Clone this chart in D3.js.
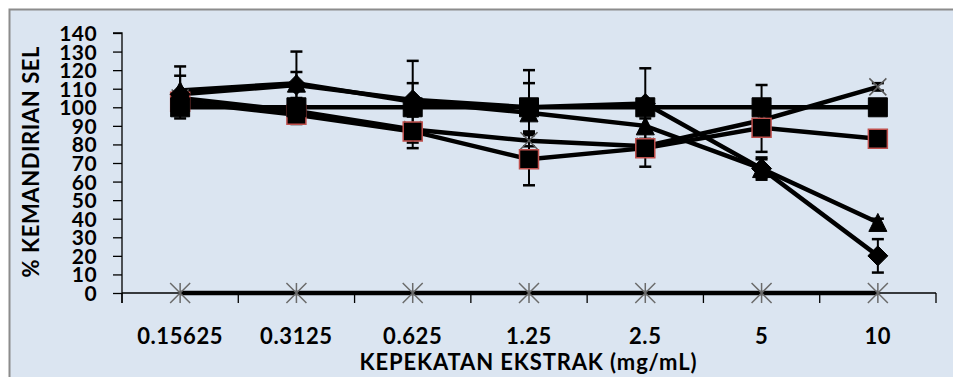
<!DOCTYPE html>
<html>
<head>
<meta charset="utf-8">
<title>% Kemandirian Sel</title>
<style>
  body { margin: 0; background: #fff; }
  svg { display: block; }
  text { font-family: Lato, "Open Sans", sans-serif; fill: #000; }
</style>
</head>
<body>
<script src="https://cdn.jsdelivr.net/npm/d3@7/dist/d3.min.js"></script>
<script>

// data
var categories = ["0.15625", "0.3125", "0.625", "1.25", "2.5", "5", "10"];
var yTicks = [0, 10, 20, 30, 40, 50, 60, 70, 80, 90, 100, 110, 120, 130, 140];

var diamondVals  = [107, 112, 104, 100, 102, 67, 20];
var diamondErr   = [10, 7, 9, 13, 19, 5, 9];
var triangleVals = [109, 113, 103, 97, 90, 67, 38];
var triangleErr  = [13, 17, 22, 23, 4, 6, 2];
var squareVals   = [100, 100, 100, 100, 100, 100, 100];
var squareErr    = [6, 4, 3, 2, 2, 12, 1];
var redSqVals    = [103, 96, 87, 72, 78, 89, 83];
var redSqErr     = [4, 5, 9, 14, 10, 13, 2];
var crossVals    = [105, 98, 88, 82, 79, 93, 111];
var crossErr     = [3, 2, 2, 3, 2, 3, 2];
var zeroVals     = [0, 0, 0, 0, 0, 0, 0];

var W = 953, H = 377;
var margin = {top: 33, right: 17, bottom: 84, left: 122};
var width = W - margin.left - margin.right,
    height = H - margin.top - margin.bottom;

var svg = d3.select("body").append("svg")
  .attr("width", W)
  .attr("height", H);

// chart area background and frame
svg.append("rect")
  .attr("x", 9).attr("y", 9)
  .attr("width", W - 9).attr("height", H - 9)
  .attr("fill", "#dbe5f1");
svg.append("path")
  .attr("d", "M9.5," + H + "V9.5H" + W)
  .attr("fill", "none")
  .attr("stroke", "#8c8c8c")
  .attr("stroke-width", 2);

var g = svg.append("g")
  .attr("transform", "translate(" + margin.left + "," + margin.top + ")");

var x = d3.scaleBand().domain(categories).range([0, width]);
var y = d3.scaleLinear().domain([0, 140]).range([height, 0]);
var cx = function(i) { return x(categories[i]) + x.bandwidth() / 2; };

// y axis
var yAxis = g.append("g")
  .call(d3.axisLeft(y).tickValues(yTicks).tickSize(9).tickPadding(16));
yAxis.select(".domain").attr("stroke", "#000").attr("stroke-width", 1.3)
  .attr("d", "M0," + (height + 10) + "V0H-9");
yAxis.selectAll(".tick line").attr("stroke", "#000").attr("stroke-width", 1.3);
yAxis.selectAll("text")
  .style("font-size", "21px").style("font-weight", "bold")
  .style("font-family", "Lato, sans-serif")
  .style("letter-spacing", "0.4px")
  .attr("dy", "0.36em");

// x axis: ticks on band edges, labels in the middle
var xAxis = g.append("g").attr("transform", "translate(0," + height + ")");
xAxis.append("line")
  .attr("x1", 0).attr("x2", width)
  .attr("stroke", "#000").attr("stroke-width", 1.3);
xAxis.selectAll(".edge")
  .data(categories.concat(["end"]))
  .enter().append("line")
  .attr("class", "edge")
  .attr("x1", function(d, i) { return i * x.step(); })
  .attr("x2", function(d, i) { return i * x.step(); })
  .attr("y1", 0).attr("y2", 10)
  .attr("stroke", "#000").attr("stroke-width", 1.3);
xAxis.selectAll(".lbl")
  .data(categories)
  .enter().append("text")
  .attr("class", "lbl")
  .attr("x", function(d) { return x(d) + x.bandwidth() / 2; })
  .attr("y", 51)
  .attr("text-anchor", "middle")
  .style("font-size", "22px").style("font-weight", "bold")
  .style("letter-spacing", "0.6px")
  .text(function(d) { return d; });

// axis titles
g.append("text")
  .attr("x", width / 2 - 1)
  .attr("y", height + 77)
  .attr("text-anchor", "middle")
  .attr("textLength", 337)
  .attr("lengthAdjust", "spacing")
  .style("font-size", "22px").style("font-weight", "bold")
  .text("KEPEKATAN EKSTRAK (mg/mL)");
svg.append("text")
  .attr("transform", "translate(39,162) rotate(-90)")
  .attr("text-anchor", "middle")
  .attr("textLength", 231)
  .attr("lengthAdjust", "spacing")
  .style("font-size", "22px").style("font-weight", "bold")
  .text("% KEMANDIRIAN SEL");

// marker shapes
function markerPath(type, s) {
  var h = s / 2;
  if (type === "square") return "M" + -h + "," + -h + "h" + s + "v" + s + "h" + -s + "Z";
  if (type === "diamond") return "M0," + -h + "L" + h + ",0L0," + h + "L" + -h + ",0Z";
  if (type === "triangle") return "M0," + -h + "L" + h + "," + h + "H" + -h + "Z";
  if (type === "cross") return "M" + -h + "," + -h + "L" + h + "," + h + "M" + h + "," + -h + "L" + -h + "," + h;
  if (type === "star") return "M" + -h + "," + -h + "L" + h + "," + h + "M" + h + "," + -h + "L" + -h + "," + h + "M0," + -h + "V" + h;
}

var series = [
  {name: "zero", vals: zeroVals, err: null, marker: "star", size: 20, fill: "none", stroke: "#6b6b6b", sw: 1.5},
  {name: "cross", vals: crossVals, err: crossErr, marker: "cross", size: 17, fill: "none", stroke: "#5a5a5a", sw: 1.5},
  {name: "redsq", vals: redSqVals, err: redSqErr, marker: "square", size: 19, fill: "#000", stroke: "#c0504d", sw: 1.5},
  {name: "square", vals: squareVals, err: squareErr, marker: "square", size: 19, fill: "#000", stroke: "#000", sw: 1},
  {name: "triangle", vals: triangleVals, err: triangleErr, marker: "triangle", size: 18, fill: "#000", stroke: "#000", sw: 1},
  {name: "diamond", vals: diamondVals, err: diamondErr, marker: "diamond", size: 20, fill: "#000", stroke: "#000", sw: 1}
];

var line = d3.line()
  .x(function(d, i) { return cx(i); })
  .y(function(d) { return y(d); });

// lines first
series.forEach(function(s) {
  g.append("path")
    .datum(s.vals)
    .attr("d", line)
    .attr("fill", "none")
    .attr("stroke", "#000")
    .attr("stroke-width", 4.5);
});

// error bars
series.forEach(function(s) {
  if (!s.err) return;
  var eb = g.selectAll(".eb-" + s.name)
    .data(s.vals)
    .enter().append("g")
    .attr("class", "eb-" + s.name);
  eb.append("line")
    .attr("x1", function(d, i) { return cx(i); })
    .attr("x2", function(d, i) { return cx(i); })
    .attr("y1", function(d, i) { return y(d + s.err[i]); })
    .attr("y2", function(d, i) { return y(d - s.err[i]); })
    .attr("stroke", "#000").attr("stroke-width", 2);
  [1, -1].forEach(function(sign) {
    eb.append("line")
      .attr("x1", function(d, i) { return cx(i) - 6; })
      .attr("x2", function(d, i) { return cx(i) + 6; })
      .attr("y1", function(d, i) { return y(d + sign * s.err[i]); })
      .attr("y2", function(d, i) { return y(d + sign * s.err[i]); })
      .attr("stroke", "#000").attr("stroke-width", 2.5);
  });
});

// markers
series.forEach(function(s) {
  g.selectAll(".mk-" + s.name)
    .data(s.vals)
    .enter().append("path")
    .attr("class", "mk-" + s.name)
    .attr("transform", function(d, i) { return "translate(" + cx(i) + "," + y(d) + ")"; })
    .attr("d", markerPath(s.marker, s.size))
    .attr("fill", s.fill)
    .attr("stroke", s.stroke)
    .attr("stroke-width", s.sw);
});

</script>
</body>
</html>
